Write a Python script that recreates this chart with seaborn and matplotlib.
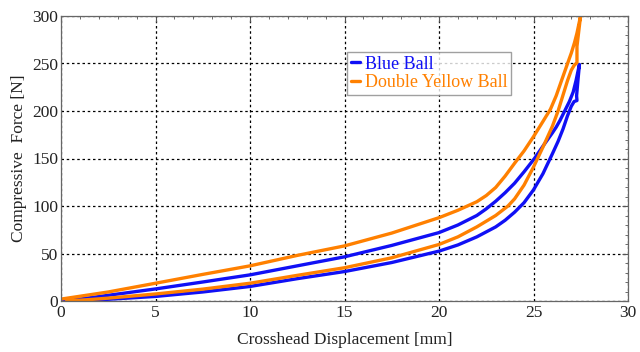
import matplotlib
matplotlib.use("Agg")
import matplotlib.pyplot as plt
import seaborn as sns
import pandas as pd
from matplotlib.ticker import MultipleLocator

# Loading (lower) and unloading (upper) branches, displacement [mm] vs force [N]
blue_load_x = [0.7, 1.5, 2.5, 5.0, 7.5, 10.0, 12.5, 15.0, 17.5, 20.0, 21.0, 22.0, 23.0, 23.5, 24.0,
               24.5, 25.0, 25.5, 26.0, 26.3, 26.56, 26.8, 27.0, 27.15, 27.3, 27.28, 27.35, 27.43]
blue_load_y = [0.0, 0.8, 1.8, 4.8, 9.5, 15.3, 23.5, 31.0, 40.5, 52.5, 59.0, 67.5, 78.0, 85.0, 93.5,
               103.5, 117.0, 134.0, 155.0, 168.0, 181.0, 195.0, 205.0, 210.0, 211.0, 216.0, 232.0, 249.0]
blue_unload_x = [27.43, 27.25, 27.1, 26.9, 26.65, 26.4, 26.2, 26.0, 25.5, 25.05, 24.5, 24.0, 23.5,
                 23.0, 22.5, 22.0, 21.0, 20.0, 17.5, 15.0, 12.5, 10.0, 7.5, 5.0, 2.5, 1.0, 0.1]
blue_unload_y = [249.0, 232.0, 220.0, 210.0, 200.0, 190.0, 183.0, 177.0, 163.0, 150.0, 136.0, 124.0, 114.0,
                 105.0, 97.0, 90.0, 80.0, 72.0, 58.5, 46.5, 37.0, 27.5, 20.0, 12.7, 6.0, 2.0, 0.5]

yellow_load_x = [0.3, 1.5, 2.5, 5.0, 7.5, 10.0, 12.5, 15.0, 17.5, 20.0, 21.0, 22.0, 23.0, 23.65, 24.0,
                 24.5, 25.0, 25.5, 26.0, 26.3, 26.55, 26.8, 27.0, 27.15, 27.3, 27.3, 27.49]
yellow_load_y = [0.0, 1.5, 3.0, 7.4, 12.5, 18.7, 27.0, 35.0, 45.5, 59.5, 67.5, 78.0, 90.0, 100.0, 107.5,
                 122.0, 141.0, 162.0, 184.0, 200.0, 216.0, 232.0, 243.0, 248.0, 251.0, 268.0, 300.0]
yellow_unload_x = [27.49, 27.3, 27.17, 27.0, 26.82, 26.5, 26.2, 25.9, 25.5, 25.0, 24.5, 24.0, 23.5, 23.0,
                   22.5, 22.0, 21.0, 20.0, 17.5, 15.0, 12.5, 10.0, 7.5, 5.0, 2.5, 0.0]
yellow_unload_y = [300.0, 282.0, 272.0, 261.0, 251.0, 233.0, 216.0, 202.0, 189.0, 173.0, 158.0, 145.0, 131.5,
                   119.5, 111.0, 104.5, 95.5, 87.7, 71.5, 58.0, 48.0, 37.0, 28.0, 18.7, 9.5, 2.0]

series_names = ["Blue Ball", "Double Yellow Ball"]
x_ticks = [0, 5, 10, 15, 20, 25, 30]
y_ticks = [0, 50, 100, 150, 200, 250, 300]

frames = []
for name, xs, ys in [
    (series_names[0], blue_load_x + blue_unload_x, blue_load_y + blue_unload_y),
    (series_names[1], yellow_load_x + yellow_unload_x, yellow_load_y + yellow_unload_y),
]:
    frames.append(pd.DataFrame({"disp": xs, "force": ys, "ball": name}))
df = pd.concat(frames, ignore_index=True)

sns.set_style("white")
plt.rcParams["font.family"] = ["Liberation Serif", "DejaVu Serif"]
plt.rcParams["xtick.direction"] = "in"
plt.rcParams["ytick.direction"] = "in"

colors = {"Blue Ball": "#1010f5", "Double Yellow Ball": "#ff8000"}

fig = plt.figure(figsize=(6.4, 3.52), dpi=100)
ax = fig.add_axes([61 / 640, 1 - 301 / 352, 567 / 640, 285 / 352])

sns.lineplot(data=df, x="disp", y="force", hue="ball", palette=colors, sort=False,
             estimator=None, linewidth=2.4, ax=ax, legend=False)

ax.set_xlim(0, 30)
ax.set_ylim(0, 300)
ax.set_xticks(x_ticks)
ax.set_yticks(y_ticks)
ax.xaxis.set_minor_locator(MultipleLocator(1))
ax.yaxis.set_minor_locator(MultipleLocator(10))
ax.tick_params(which="both", top=True, right=True, color="#555555", labelsize=12.5,
               labelcolor="#222222")
ax.tick_params(which="major", length=4, width=0.8)
ax.tick_params(axis="x", which="major", pad=3)
ax.tick_params(axis="y", which="major", pad=2)
ax.tick_params(which="minor", length=2.2, width=0.6)
ax.grid(True, which="major", color="black", linestyle=(0, (2, 2.2)), linewidth=0.9)
for s in ax.spines.values():
    s.set_color("#666666")
    s.set_linewidth(0.9)

ax.set_xlabel("Crosshead Displacement [mm]", fontsize=12.5, color="#222222", labelpad=8)
ax.set_ylabel("Compressive  Force [N]", fontsize=12.5, color="#222222", labelpad=4)

handles = [plt.Line2D([], [], color=colors[n], linewidth=2.4) for n in series_names]
leg = ax.legend(handles, series_names, loc="upper left",
                bbox_to_anchor=((347 - 61) / 567, (301 - 52) / 285),
                borderaxespad=0, handlelength=0.5, handletextpad=0.3,
                labelspacing=0.1, borderpad=0.2, fontsize=13, labelcolor="linecolor",
                frameon=True, fancybox=False, shadow=False)
leg.get_frame().set_edgecolor("#888888")
leg.get_frame().set_linewidth(1.0)

fig.savefig("out.png", dpi=100)
